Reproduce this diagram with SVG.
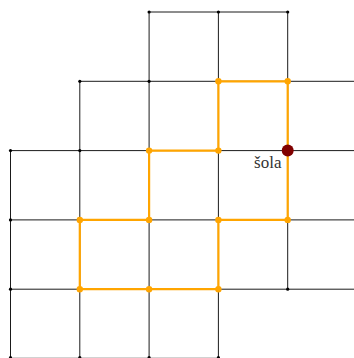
<svg xmlns="http://www.w3.org/2000/svg" width="354" height="358" viewBox="0 0 354 358">
<style>
.g{stroke:#000;stroke-width:0.9;fill:none}
.p{stroke:#FFA500;stroke-width:2.2;fill:none;stroke-linejoin:round}
.d{fill:#000}
.o{fill:#FFA500}
.s{fill:#800000}
.t{font-family:"Liberation Serif",serif;font-size:17px;fill:#333}
</style>
<rect width="354" height="358" fill="#fff"/>
<g id="connectors">
<g id="grid">
<line class="g" x1="149.1" y1="12" x2="287.7" y2="12"/>
<line class="g" x1="79.8" y1="81.3" x2="354" y2="81.3"/>
<line class="g" x1="10.5" y1="150.6" x2="354" y2="150.6"/>
<line class="g" x1="10.5" y1="219.9" x2="354" y2="219.9"/>
<line class="g" x1="10.5" y1="289.2" x2="354" y2="289.2"/>
<line class="g" x1="10.5" y1="358.3" x2="218.4" y2="358.3"/>
<line class="g" x1="10.5" y1="150.6" x2="10.5" y2="358.5"/>
<line class="g" x1="79.8" y1="81.3" x2="79.8" y2="358.5"/>
<line class="g" x1="149.1" y1="12" x2="149.1" y2="358.5"/>
<line class="g" x1="218.4" y1="12" x2="218.4" y2="358.5"/>
<line class="g" x1="287.7" y1="12" x2="287.7" y2="289.2"/>
</g>
<path id="route" class="p" d="M287.7,81.3 H218.4 V150.6 H149.1 V219.9 H79.8 V289.2 H218.4 V219.9 H287.7 Z"/>
</g>
<g id="n-small">
<circle class="d" cx="149.1" cy="12" r="1.6"/>
<circle class="d" cx="218.4" cy="12" r="1.6"/>
<circle class="d" cx="287.7" cy="12" r="1.6"/>
<circle class="d" cx="79.8" cy="81.3" r="1.6"/>
<circle class="d" cx="149.1" cy="81.3" r="1.6"/>
<circle class="d" cx="10.5" cy="150.6" r="1.6"/>
<circle class="d" cx="79.8" cy="150.6" r="1.6"/>
<circle class="d" cx="10.5" cy="219.9" r="1.6"/>
<circle class="d" cx="10.5" cy="289.2" r="1.6"/>
<circle class="d" cx="287.7" cy="289.2" r="1.6"/>
<circle class="d" cx="10.5" cy="357.5" r="1.6"/>
<circle class="d" cx="79.8" cy="357.5" r="1.6"/>
<circle class="d" cx="149.1" cy="357.5" r="1.6"/>
<circle class="d" cx="218.4" cy="357.5" r="1.6"/>
</g>
<g id="n-route">
<circle class="o" cx="218.4" cy="81.3" r="3.2"/>
<circle class="o" cx="287.7" cy="81.3" r="3.2"/>
<circle class="o" cx="149.1" cy="150.6" r="3.2"/>
<circle class="o" cx="218.4" cy="150.6" r="3.2"/>
<circle class="o" cx="79.8" cy="219.9" r="3.2"/>
<circle class="o" cx="149.1" cy="219.9" r="3.2"/>
<circle class="o" cx="218.4" cy="219.9" r="3.2"/>
<circle class="o" cx="287.7" cy="219.9" r="3.2"/>
<circle class="o" cx="79.8" cy="289.2" r="3.2"/>
<circle class="o" cx="149.1" cy="289.2" r="3.2"/>
<circle class="o" cx="218.4" cy="289.2" r="3.2"/>
</g>
<g id="n-sola">
<circle class="s" cx="287.7" cy="150.6" r="6"/>
<text class="t" x="281.5" y="167.5" text-anchor="end">šola</text>
</g>
</svg>
